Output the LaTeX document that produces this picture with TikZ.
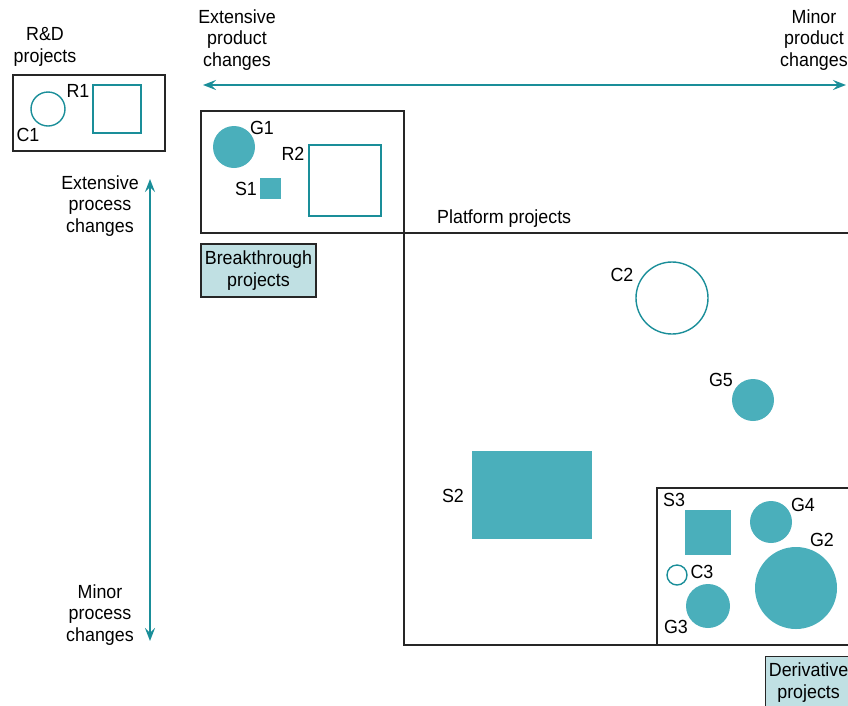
\documentclass[tikz,border=0pt]{standalone}
\usepackage{fontspec}
\setmainfont{Liberation Sans}[FakeStretch=0.94]
\usepackage{tikz}
\usetikzlibrary{arrows.meta,positioning}
\definecolor{tealfill}{HTML}{4AAFBB}
\definecolor{tealline}{HTML}{1A8E99}
\definecolor{tagfill}{HTML}{C0E0E3}

\tikzset{
  frame/.style={draw=black!85,line width=1.2pt},
  solid item/.style={fill=tealfill,draw=none},
  open item/.style={draw=tealline,line width=1.4pt},
  tag/.style={draw=black!85,line width=1.2pt,fill=tagfill,align=center,inner sep=2pt},
  lbl/.style={font=\fontsize{19}{21.5}\selectfont,align=center,inner sep=0pt},
  axis/.style={draw=tealline,line width=2.6pt,{Stealth[length=13pt,width=10pt,inset=5pt]}-{Stealth[length=13pt,width=10pt,inset=5pt]}}
}

\begin{document}
\begin{tikzpicture}[x=1pt,y=-1pt]
		
		\useasboundingbox (0,0) rectangle (848,705);
		
		% frames
		\draw[frame] (13,75) rectangle (165,151);
		\draw[frame] (201,111) rectangle (404,233);
		\draw[frame] (404,233) -- (848,233);
		\draw[frame] (404,233) -- (404,645) -- (848,645);
		\draw[frame] (657,645) -- (657,488) -- (848,488);
		
		% axes
		\coordinate (pleft)  at (203,85);
		\coordinate (pright) at (846,85);
		\coordinate (ptop)   at (150,179);
		\coordinate (pbot)   at (150,641);
		\draw[axis] (pleft) -- (pright);
		\draw[axis] (ptop) -- (pbot);
		
		% axis labels
		\node[lbl] (extprod) at (237,40) {Extensive\\product\\changes};
		\node[lbl] (minprod) at (814,40) {Minor\\product\\changes};
		\node[lbl] (extproc) at (100,206) {Extensive\\process\\changes};
		\node[lbl] (minproc) at (100,615) {Minor\\process\\changes};
		\node[lbl] (rdlab)   at (45,47)  {R\&D\\projects};
		\node[lbl,anchor=west] (platlab) at (437,219) {Platform projects};
		
		% project categories
		\node[tag,lbl,minimum width=115pt,minimum height=53pt] (breaklab) at (258.5,270.5) {Breakthrough\\projects};
		\node[tag,lbl,minimum width=86pt,minimum height=52pt,anchor=north west] (derivlab) at (765,656) {Derivative\\projects};
		
		% R&D projects
		\draw[open item] (48,109) circle (17);
		\draw[open item] (93,85) rectangle (141,133);
		\node[lbl] (c1) at (28,135) {C1};
		\node[lbl] (r1) at (78,91) {R1};
		
		% breakthrough projects
		\fill[solid item] (234,147) circle (21);
		\fill[solid item] (260,178) rectangle (281,199);
		\draw[open item] (309,145) rectangle (381,216);
		\node[lbl] (g1) at (262,128) {G1};
		\node[lbl] (s1) at (246,189) {S1};
		\node[lbl] (r2) at (293,154) {R2};
		
		% platform projects
		\draw[open item] (672,298) circle (36);
		\fill[solid item] (753,400) circle (21);
		\fill[solid item] (472,451) rectangle (592,539);
		\node[lbl] (c2) at (622,275) {C2};
		\node[lbl] (g5) at (721,380) {G5};
		\node[lbl] (s2) at (453,496) {S2};
		
		% derivative projects
		\fill[solid item] (685,510) rectangle (731,555);
		\fill[solid item] (771,522) circle (21);
		\fill[solid item] (796,588) circle (41);
		\draw[open item] (677,575) circle (10);
		\fill[solid item] (708,606) circle (22);
		\node[lbl] (s3) at (674,500) {S3};
		\node[lbl] (g4) at (803,505) {G4};
		\node[lbl] (g2) at (822,540) {G2};
		\node[lbl] (c3) at (702,572) {C3};
		\node[lbl] (g3) at (676,627) {G3};
		
\end{tikzpicture}
\end{document}
